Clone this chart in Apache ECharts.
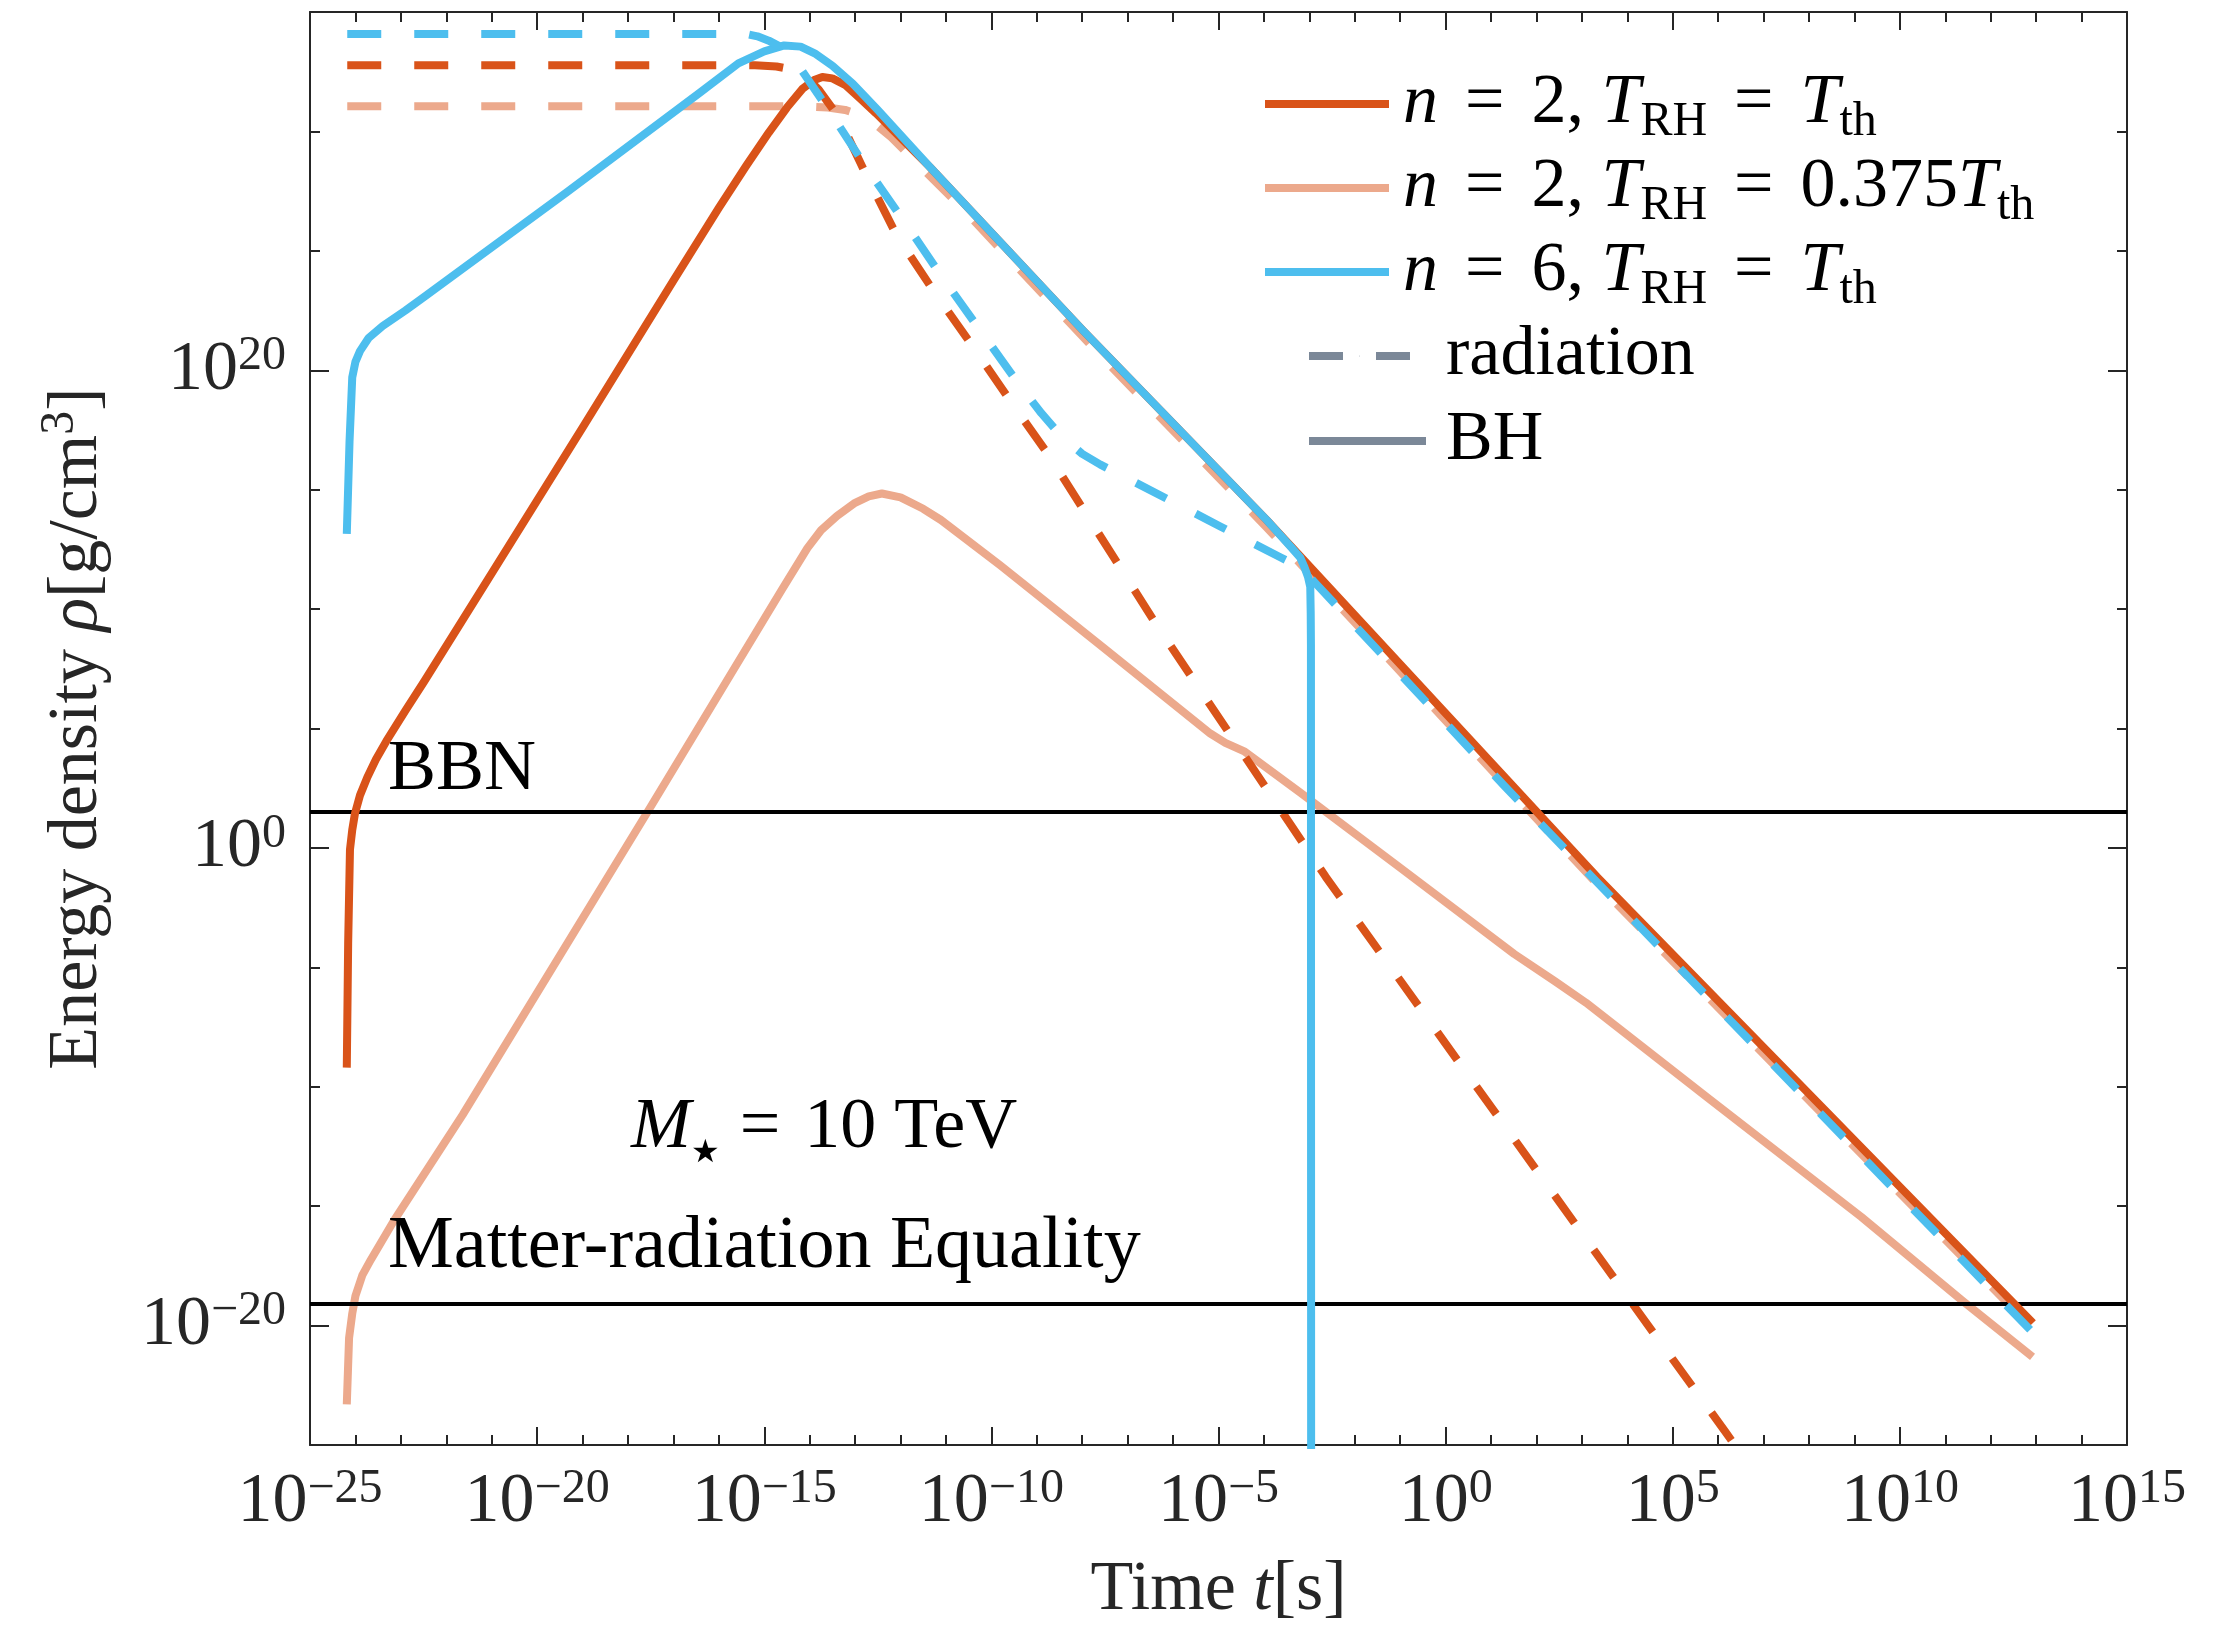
<!DOCTYPE html>
<html><head><meta charset="utf-8">
<script src="https://cdn.jsdelivr.net/npm/echarts@6.0.0/dist/echarts.min.js"></script>
<style>html,body{margin:0;padding:0;background:#fff}#c{width:2224px;height:1628px}</style>
</head><body><div id="c"></div>
<script>
// ---- data: [log10(t / s), log10(rho / (g/cm^3))] ----
const bhN2Tth = [[-24.19,-9.2],[-24.16,-4.0],[-24.12,-0.07],[-24.07,0.75],[-24.01,1.44],[-23.9,2.2],[-23.74,2.95],[-23.55,3.7],[-23.32,4.47],[-22.9,5.75],[-22.48,6.99],[-21.0,11.5],[-19.0,17.6],[-17.0,23.75],[-16.0,26.8],[-15.4,28.55],[-14.9,29.95],[-14.5,31.0],[-14.15,31.8],[-13.9,32.15],[-13.72,32.28],[-13.5,32.22],[-13.22,31.95],[-12.9,31.4],[-12.54,30.76],[-11.36,28.52],[-7.99,21.68],[-3.94,13.73],[3.33,-1.21],[12.93,-19.89]];
const radN2Tth = [[-24.18,32.77],[-15.2,32.77],[-14.73,32.72],[-14.4,32.6],[-14.14,32.4],[-13.8,31.75],[-13.37,30.62],[-12.73,28.08],[-12.08,25.63],[-11.26,23.29],[-10.42,21.03],[-9.57,18.68],[-8.72,16.4],[-6.36,9.33],[-3.47,1.14],[-2.64,-1.21],[4.32,-19.63],[6.14,-24.4],[6.7,-25.9]];
const bhN2T0375 = [[-24.19,-23.3],[-24.14,-20.52],[-24.07,-19.5],[-24.0,-18.76],[-23.85,-17.9],[-23.66,-17.24],[-23.15,-15.6],[-21.64,-11.18],[-17.59,1.44],[-14.6,10.85],[-14.05,12.55],[-13.75,13.3],[-13.4,13.9],[-13.0,14.45],[-12.7,14.72],[-12.41,14.84],[-12.0,14.68],[-11.5,14.2],[-11.11,13.73],[-9.81,11.84],[-7.5,8.33],[-5.18,4.79],[-4.85,4.4],[-4.42,4.03],[-3.21,2.33],[-0.96,-0.89],[1.51,-4.44],[2.41,-5.59],[3.09,-6.48],[5.78,-10.48],[9.15,-15.45],[11.4,-19.0],[12.92,-21.31]];
const radN2T0375 = [[-24.18,31.05],[-14.2,31.05],[-13.6,31.0],[-13.22,30.9],[-12.9,30.7],[-12.58,30.35],[-12.2,29.75],[-11.78,28.94],[-10.71,26.92],[-7.7,20.82],[-3.94,13.42],[3.33,-1.5],[12.93,-20.15]];
const bhN6Tth = [[-24.19,13.15],[-24.13,17.0],[-24.07,19.7],[-24.0,20.35],[-23.9,20.8],[-23.71,21.35],[-23.4,21.85],[-22.9,22.5],[-22.46,23.11],[-19.34,27.46],[-16.42,31.62],[-15.57,32.85],[-15.0,33.35],[-14.56,33.6],[-14.2,33.55],[-13.89,33.27],[-13.5,32.75],[-13.05,32.0],[-12.5,30.9],[-11.36,28.52],[-7.99,21.68],[-3.94,13.73],[-3.41,12.61],[-3.2,12.15],[-3.11,11.77],[-3.03,11.35],[-2.98,10.93],[-2.97,9.82],[-2.965,8.5],[-2.96,-30]];
const radN6Tth = [[-24.18,34.08],[-15.4,34.08],[-15.15,33.98],[-14.9,33.8],[-14.65,33.55],[-14.43,33.15],[-14.23,32.71],[-13.58,30.9],[-12.78,28.56],[-11.93,26.26],[-11.09,23.92],[-10.25,21.68],[-9.38,19.38],[-8.9,18.2],[-8.45,17.22],[-8.0,16.5],[-7.6,16.05],[-7.22,15.68],[-5.91,14.4],[-4.95,13.45],[-3.64,12.17],[-3.3,11.85],[-3.07,11.5],[-2.8,10.95],[1.29,2.6],[6.0,-6.7],[12.93,-20.3]];
const bbnLevel = 1.5;          // log10 rho of BBN line
const equalityLevel = -19.1;   // log10 rho of matter-radiation equality line
const xTickExp = [-25,-20,-15,-10,-5,0,5,10,15];
const yTickExp = [-20,0,20];
const seriesNames = ['n = 2, T_RH = T_th','n = 2, T_RH = 0.375T_th','n = 6, T_RH = T_th'];

const FONT = "'Liberation Serif','Times New Roman',serif";
const C_OR = '#D95319', C_LO = '#ECA98C', C_BL = '#4DBEEE', C_GR = '#7B8898', C_AX = '#262626';
const LW = 8;

const legendText = {
  'n = 2, T_RH = T_th': '{f|n}{q|=}{r|2, }{i|T}{s|RH}{q|=}{i|T}{s|th}',
  'n = 2, T_RH = 0.375T_th': '{f|n}{q|=}{r|2, }{i|T}{s|RH}{q|=}{r|0.375}{i|T}{s|th}',
  'n = 6, T_RH = T_th': '{f|n}{q|=}{r|6, }{i|T}{s|RH}{q|=}{i|T}{s|th}',
  'radiation': '{g|radiation}',
  'BH': '{h|BH}'
};
const legendRich = {
  r: {fontFamily: FONT, fontSize: 70, lineHeight: 84, color: '#000'},
  q: {fontFamily: FONT, fontSize: 70, lineHeight: 84, color: '#000', padding: [0, 27, 0, 27]},
  i: {fontFamily: FONT, fontStyle: 'italic', fontSize: 70, lineHeight: 84, color: '#000'},
  f: {fontFamily: FONT, fontStyle: 'italic', fontSize: 70, lineHeight: 84, color: '#000', padding: [0, 0, 0, 9]},
  g: {fontFamily: FONT, fontSize: 70, lineHeight: 84, color: '#000', padding: [0, 0, 0, 31]},
  h: {fontFamily: FONT, fontSize: 70, lineHeight: 84, color: '#000', padding: [0, 0, 0, 15]},
  s: {fontFamily: FONT, fontSize: 48, lineHeight: 53, verticalAlign: 'bottom', color: '#000'}
};
const tickRich = {
  b: {fontFamily: FONT, fontSize: 70, lineHeight: 76, color: C_AX},
  s: {fontFamily: FONT, fontSize: 48, lineHeight: 34, verticalAlign: 'top', color: C_AX}
};
function pow10(v) {
  const e = v < 0 ? '\u2212' + Math.abs(v) : String(v);
  return '{b|10}{s|' + e + '}';
}

function mkSeries(name, data, color, dashed, z) {
  return {
    name, type: 'line', data, symbol: 'none', showSymbol: false,
    smooth: false, clip: true, z,
    xAxisIndex: 0, yAxisIndex: 0,
    lineStyle: {color, width: LW, type: dashed ? [34, 33] : 'solid', cap: 'butt', join: 'round'},
    itemStyle: {color}, emphasis: {disabled: true}, silent: true
  };
}

const tickLine = {color: C_AX, width: 2};
const axisLineStyle = {show: true, onZero: false, lineStyle: {color: C_AX, width: 2}};
const legendCommon = {
  orient: 'vertical', padding: 0, itemHeight: 1, itemGap: 0, selectedMode: false,
  lineStyle: {width: LW, cap: 'butt'},
  formatter: n => legendText[n],
  textStyle: {rich: legendRich, fontFamily: FONT, fontSize: 70, lineHeight: 84}
};

const option = {
  animation: false,
  backgroundColor: '#fff',
  grid: {left: 310, right: 97, top: 12, bottom: 183, containLabel: false, outerBoundsMode: 'none'},
  xAxis: [
    {type: 'value', position: 'bottom', min: -25, max: 15, interval: 5,
     axisLine: axisLineStyle,
     axisTick: {show: true, inside: true, length: 18, lineStyle: tickLine},
     minorTick: {show: true, splitNumber: 5, length: 10, lineStyle: tickLine},
     splitLine: {show: false}, minorSplitLine: {show: false},
     axisLabel: {show: true, margin: 20, customValues: xTickExp, formatter: v => pow10(v), rich: tickRich, showMinLabel: true, showMaxLabel: true, hideOverlap: false},
     name: '{r|Time }{i|t}{r|[s]}', nameLocation: 'middle', nameGap: 104,
     nameTextStyle: {rich: {
       r: {fontFamily: FONT, fontSize: 70, lineHeight: 84, color: C_AX},
       i: {fontFamily: FONT, fontStyle: 'italic', fontSize: 70, lineHeight: 84, color: C_AX}}}},
    {type: 'value', position: 'top', min: -25, max: 15, interval: 5,
     axisLine: axisLineStyle,
     axisTick: {show: true, inside: true, length: 18, lineStyle: tickLine},
     minorTick: {show: true, splitNumber: 5, length: 10, lineStyle: tickLine},
     splitLine: {show: false}, minorSplitLine: {show: false},
     axisLabel: {show: false}}
  ],
  yAxis: [
    {type: 'value', position: 'left', min: -25, max: 35, interval: 5,
     axisLine: axisLineStyle,
     axisTick: {show: true, inside: true, length: 10, lineStyle: tickLine},
     splitLine: {show: false}, axisLabel: {show: false}},
    {type: 'value', position: 'left', min: -25, max: 35,
     axisLine: {show: false, onZero: false},
     axisTick: {show: true, inside: true, length: 19, lineStyle: tickLine, customValues: yTickExp},
     splitLine: {show: false},
     axisLabel: {show: true, margin: 24, customValues: yTickExp, formatter: v => pow10(v), rich: tickRich, hideOverlap: false},
     name: '{r|Energy density }{i|\u03c1}{r|[g/cm}{s|3}{r|]}', nameLocation: 'middle', nameGap: 190, nameRotate: 90,
     nameTextStyle: {rich: {
       r: {fontFamily: FONT, fontSize: 70, lineHeight: 84, color: C_AX},
       i: {fontFamily: FONT, fontStyle: 'italic', fontSize: 70, lineHeight: 84, color: C_AX},
       s: {fontFamily: FONT, fontSize: 48, lineHeight: 50, verticalAlign: 'top', color: C_AX}}}},
    {type: 'value', position: 'right', min: -25, max: 35, interval: 5,
     axisLine: axisLineStyle,
     axisTick: {show: true, inside: true, length: 10, lineStyle: tickLine},
     splitLine: {show: false}, axisLabel: {show: false}},
    {type: 'value', position: 'right', min: -25, max: 35,
     axisLine: {show: false, onZero: false},
     axisTick: {show: true, inside: true, length: 19, lineStyle: tickLine, customValues: yTickExp},
     splitLine: {show: false}, axisLabel: {show: false, customValues: yTickExp}}
  ],
  legend: [
    Object.assign({}, legendCommon, {data: seriesNames, left: 1261, top: 62, itemWidth: 124}),
    Object.assign({}, legendCommon, {data: ['radiation'], left: 1305, top: 314, itemWidth: 101}),
    Object.assign({}, legendCommon, {data: ['BH'], left: 1305, top: 399, itemWidth: 117})
  ],
  graphic: [
    {type: 'text', x: 388, y: 770, z: 100,
     style: {text: 'BBN', fontFamily: FONT, fontSize: 72, fill: '#000', align: 'left', verticalAlign: 'middle', textAlign: 'left', textVerticalAlign: 'middle'}},
    {type: 'text', x: 388, y: 1248, z: 100,
     style: {text: 'Matter-radiation Equality', fontFamily: FONT, fontSize: 74, fill: '#000', align: 'left', verticalAlign: 'middle', textAlign: 'left', textVerticalAlign: 'middle'}},
    {type: 'text', x: 631, y: 1128, z: 100,
     style: {text: '{i|M}{s|\u2605}{q|=}{r|10 TeV}', align: 'left', verticalAlign: 'middle', textAlign: 'left', textVerticalAlign: 'middle',
       rich: {
         i: {fontFamily: FONT, fontStyle: 'italic', fontSize: 72, lineHeight: 84, fill: '#000', color: '#000'},
         r: {fontFamily: FONT, fontSize: 72, lineHeight: 84, fill: '#000', color: '#000', padding: [0, 0, 0, 4]},
         q: {fontFamily: FONT, fontSize: 72, lineHeight: 84, fill: '#000', color: '#000', padding: [0, 20, 0, 20]},
         s: {fontFamily: "'DejaVu Sans',sans-serif", fontSize: 32, lineHeight: 40, verticalAlign: 'bottom', fill: '#000', color: '#000'}}}}
  ],
  series: [
    mkSeries('rad_n2_T0375', radN2T0375, C_LO, true, 2),
    mkSeries(seriesNames[1], bhN2T0375, C_LO, false, 3),
    mkSeries('rad_n2_Tth', radN2Tth, C_OR, true, 4),
    mkSeries(seriesNames[0], bhN2Tth, C_OR, false, 5),
    mkSeries(seriesNames[2], bhN6Tth, C_BL, false, 6),
    Object.assign(mkSeries('rad_n6_Tth', radN6Tth, C_BL, true, 7), {
      markLine: {silent: true, symbol: ['none', 'none'], label: {show: false}, animation: false,
        lineStyle: {color: '#000', width: 4, type: 'solid'}, emphasis: {disabled: true},
        data: [{yAxis: bbnLevel}, {yAxis: equalityLevel}]}
    }),
    mkSeries('radiation', [], C_GR, true, 1),
    mkSeries('BH', [], C_GR, false, 1)
  ]
};
const chart = echarts.init(document.getElementById('c'), null, {renderer: 'canvas'});
chart.setOption(option);
</script></body></html>
